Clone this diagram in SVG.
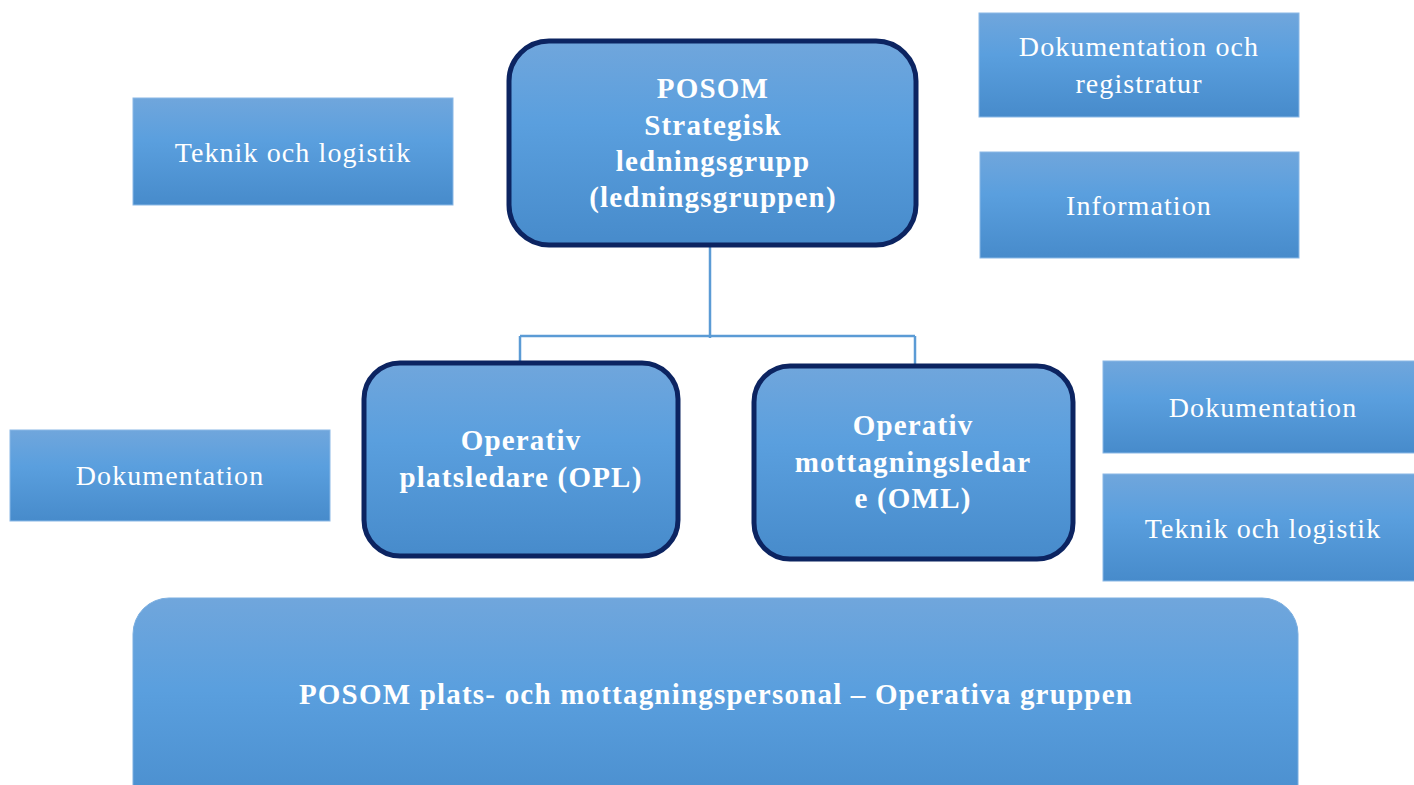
<svg xmlns="http://www.w3.org/2000/svg" width="1414" height="785" viewBox="0 0 1414 785">
<defs>
<linearGradient id="g" x1="0" y1="0" x2="0" y2="1">
<stop offset="0" stop-color="#70a6dc"/>
<stop offset="0.4" stop-color="#5a9fde"/>
<stop offset="1" stop-color="#478bcb"/>
</linearGradient>
<style>
.box{fill:url(#g);stroke:#8ab8e6;stroke-width:1}
.lead{fill:url(#g);stroke:#0c2461;stroke-width:5}
.big{fill:url(#g);stroke:#7aaee0;stroke-width:1}
.t{font-family:"Liberation Serif","Times New Roman",serif;font-size:28px;letter-spacing:1.1px;fill:#ffffff;text-anchor:middle}
.b{font-weight:bold;font-size:29px;letter-spacing:1.2px}
.conn{fill:none;stroke:#5b9bd5;stroke-width:2.5}
</style>
</defs>
<g id="connectors">
<path class="conn" d="M710 246 V338 M520 336 H915 M520 336 V362 M915 336 V365"/>
</g>
<g id="strategisk">
<rect class="lead" x="509" y="41" width="407" height="204" rx="40"/>
<text class="t b" x="713" y="98">POSOM</text>
<text class="t b" x="713" y="135">Strategisk</text>
<text class="t b" x="713" y="171">ledningsgrupp</text>
<text class="t b" x="713" y="207">(ledningsgruppen)</text>
</g>
<g id="teknik-left">
<rect class="box" x="133" y="98" width="320" height="107"/>
<text class="t" x="293" y="162">Teknik och logistik</text>
</g>
<g id="dok-reg">
<rect class="box" x="979" y="13" width="320" height="104"/>
<text class="t" x="1139" y="56">Dokumentation och</text>
<text class="t" x="1139" y="93">registratur</text>
</g>
<g id="information">
<rect class="box" x="980" y="152" width="319" height="106"/>
<text class="t" x="1139" y="215">Information</text>
</g>
<g id="opl">
<rect class="lead" x="364" y="363" width="314" height="193" rx="36"/>
<text class="t b" x="521" y="450">Operativ</text>
<text class="t b" x="521" y="487">platsledare (OPL)</text>
</g>
<g id="oml">
<rect class="lead" x="754" y="366" width="319" height="193" rx="36"/>
<text class="t b" x="913" y="435">Operativ</text>
<text class="t b" x="913" y="472">mottagningsledar</text>
<text class="t b" x="913" y="508">e (OML)</text>
</g>
<g id="dok-left">
<rect class="box" x="10" y="430" width="320" height="91"/>
<text class="t" x="170" y="485">Dokumentation</text>
</g>
<g id="dok-right">
<rect class="box" x="1103" y="361" width="320" height="92"/>
<text class="t" x="1263" y="417">Dokumentation</text>
</g>
<g id="teknik-right">
<rect class="box" x="1103" y="474" width="320" height="107"/>
<text class="t" x="1263" y="538">Teknik och logistik</text>
</g>
<g id="operativa">
<rect class="big" x="133" y="598" width="1165" height="230" rx="36"/>
<text class="t b" x="716" y="704">POSOM plats- och mottagningspersonal – Operativa gruppen</text>
</g>
</svg>
